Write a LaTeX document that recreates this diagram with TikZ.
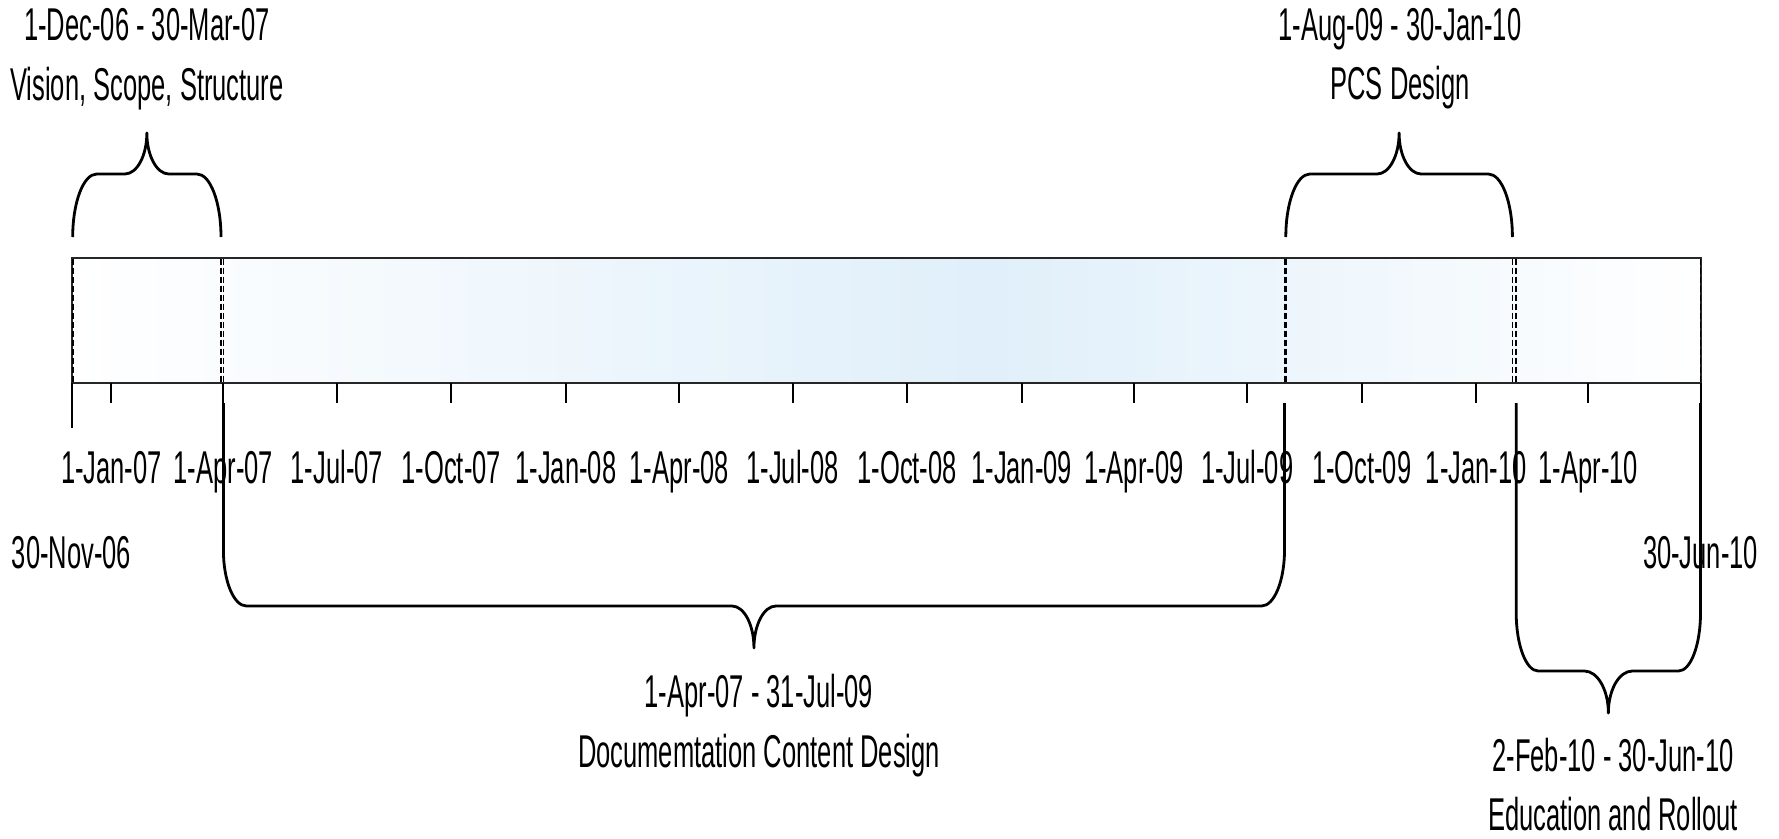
\documentclass[tikz,border=0pt]{standalone}
\usepackage{fontspec}
\setmainfont[FakeStretch=0.555]{Liberation Sans}
\definecolor{barblue}{RGB}{224,239,250}
\pgfdeclarehorizontalshading{barshade}{100bp}{color(0bp)=(white); color(25bp)=(white); color(53bp)=(barblue); color(75bp)=(white); color(100bp)=(white)}
\tikzset{
  bracestyle/.style={line width=2.8pt, black, line join=round},
  barline/.style={line width=2pt, black!85},
  tickline/.style={line width=2pt, black},
  phaseline/.style={line width=1.6pt, black, dash pattern=on 6pt off 3pt},
  lbl/.style={anchor=base, inner sep=0pt, text depth=0pt, font=\fontsize{46}{54}\selectfont},
}
\newcommand\tlbrace[8]{%
  \pgfmathsetmacro\bxm{(#1+#2)/2}%
  \pgfmathsetmacro\bcA{#4+0.552*(#5-#4)}%
  \pgfmathsetmacro\bcB{#1+#7-0.552*#7}%
  \pgfmathsetmacro\bxa{#1+#7}%
  \pgfmathsetmacro\bxb{\bxm-#8}%
  \pgfmathsetmacro\bxc{\bxm-#8+0.552*#8}%
  \pgfmathsetmacro\byt{#6+0.552*(#5-#6)}%
  \pgfmathsetmacro\bxd{\bxm+#8-0.552*#8}%
  \pgfmathsetmacro\bxe{\bxm+#8}%
  \pgfmathsetmacro\bxf{#2-#7}%
  \pgfmathsetmacro\bxg{#2-#7+0.552*#7}%
  \draw[bracestyle] (#1,#3) -- (#1,#4) .. controls (#1,\bcA) and (\bcB,#5) .. (\bxa,#5)
    -- (\bxb,#5) .. controls (\bxc,#5) and (\bxm,\byt) .. (\bxm,#6)
    .. controls (\bxm,\byt) and (\bxd,#5) .. (\bxe,#5)
    -- (\bxf,#5) .. controls (\bxg,#5) and (#2,\bcA) .. (#2,#4) -- (#2,#3);
}
\begin{document}
\begin{tikzpicture}[x=1pt, y=-1pt]
\useasboundingbox (0,0) rectangle (1779,838);

% bar
\shade[shading=barshade] (71.5,257.5) rectangle (1700.5,383);
\draw[barline] (71.5,257.5) rectangle (1700.5,383);

% phase boundaries in the bar
\foreach \px in {72.7,221,223.4,1284.5,1285.8,1512.4,1516.2,1700.5}
  \draw[phaseline] (\px,258.5) -- (\px,382);

% ticks
\foreach \px in {111.4,223.4,336.8,451.3,565.9,679.3,792.6,907.2,1021.7,1133.8,1247.1,1361.7,1476.3,1588.4,1700.5}
  \draw[tickline] (\px,383) -- (\px,403);
\draw[tickline] (71.5,383) -- (71.5,428);

% tick labels
\node[lbl] (l1)  at (111.4,483) {1-Jan-07};
\node[lbl] (l2)  at (223.4,483) {1-Apr-07};
\node[lbl] (l3)  at (336.8,483) {1-Jul-07};
\node[lbl] (l4)  at (451.3,483) {1-Oct-07};
\node[lbl] (l5)  at (565.9,483) {1-Jan-08};
\node[lbl] (l6)  at (679.3,483) {1-Apr-08};
\node[lbl] (l7)  at (792.6,483) {1-Jul-08};
\node[lbl] (l8)  at (907.2,483) {1-Oct-08};
\node[lbl] (l9)  at (1021.7,483) {1-Jan-09};
\node[lbl] (l10) at (1133.8,483) {1-Apr-09};
\node[lbl] (l11) at (1247.1,483) {1-Jul-09};
\node[lbl] (l12) at (1361.7,483) {1-Oct-09};
\node[lbl] (l13) at (1476.3,483) {1-Jan-10};
\node[lbl] (l14) at (1588.4,483) {1-Apr-10};
\node[lbl] (start) at (71.5,568) {30-Nov-06};
\node[lbl] (end) at (1700.5,568) {30-Jun-10};

% braces
\tlbrace{72.7}{221}{237}{237}{174}{133}{24}{22}
\tlbrace{1285.8}{1512.4}{237}{237}{174}{133}{24}{22}
\tlbrace{223.4}{1284.5}{403}{550}{606}{648}{23}{22}
\tlbrace{1516.2}{1700.5}{403}{613}{671}{713}{22}{24}

% phase texts
\node[lbl] (p1a) at (147,40) {1-Dec-06 - 30-Mar-07};
\node[lbl] (p1b) at (147,100) {Vision, Scope, Structure};
\node[lbl] (p3a) at (1400,40) {1-Aug-09 - 30-Jan-10};
\node[lbl] (p3b) at (1400,99) {PCS Design};
\node[lbl] (p2a) at (759,707) {1-Apr-07 - 31-Jul-09};
\node[lbl] (p2b) at (759,767) {Documemtation Content Design};
\node[lbl] (p4a) at (1613,771) {2-Feb-10 - 30-Jun-10};
\node[lbl] (p4b) at (1613,830) {Education and Rollout};
\end{tikzpicture}
\end{document}
